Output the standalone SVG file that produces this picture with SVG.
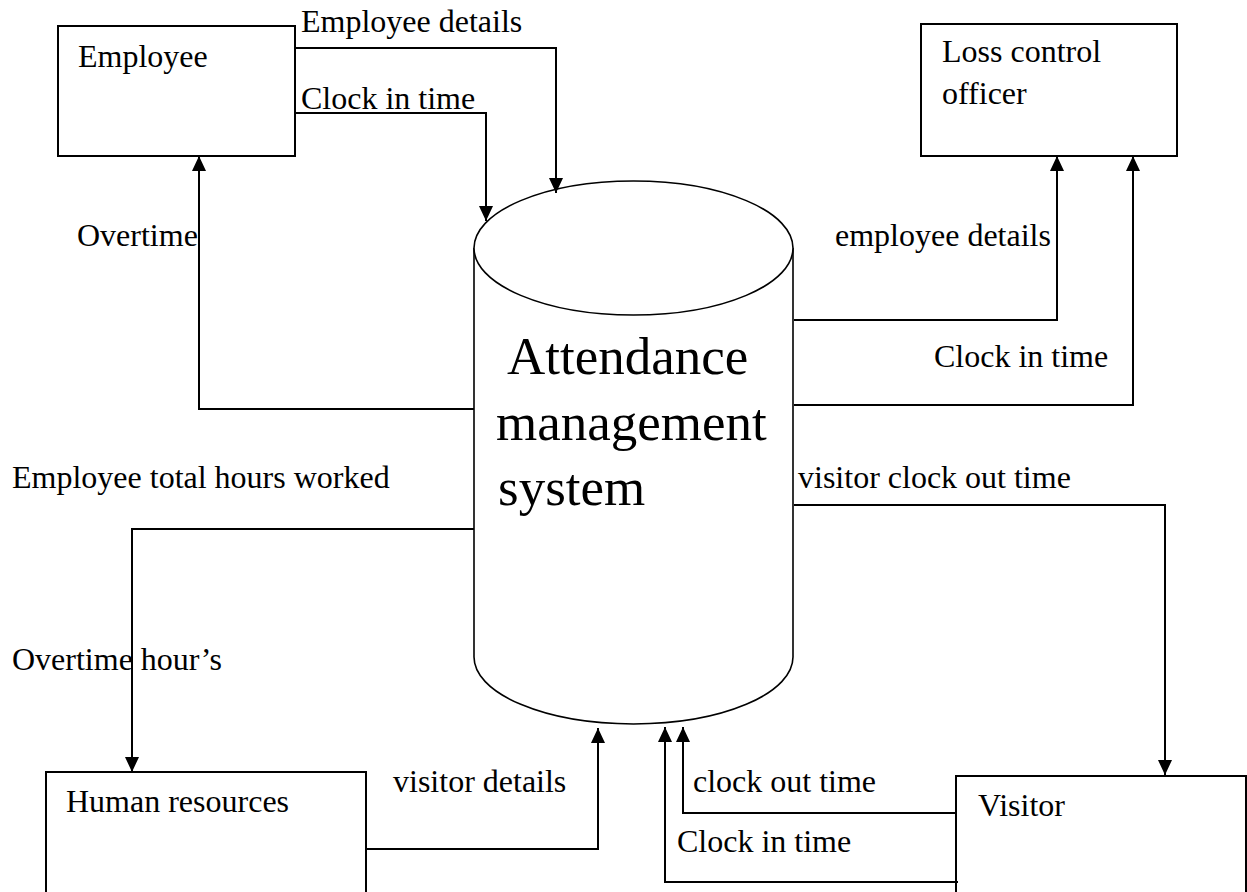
<svg xmlns="http://www.w3.org/2000/svg" width="1247" height="892" viewBox="0 0 1247 892">
<defs>
<style>
.box{fill:#fff;stroke:#000;stroke-width:2}
.cyl{fill:#fff;stroke:#000;stroke-width:1.6}
.lbl{font-family:"Liberation Serif","Times New Roman",serif;font-size:32px;fill:#000}
.big{font-family:"Liberation Serif","Times New Roman",serif;font-size:53px;fill:#000}
.con{fill:none;stroke:#000;stroke-width:2;marker-end:url(#arr)}
</style>
<marker id="arr" markerUnits="userSpaceOnUse" markerWidth="15" markerHeight="14" viewBox="0 0 15 14" refX="15" refY="7" orient="auto">
<path d="M0,0 L15,7 L0,14 z" fill="#000"/>
</marker>
</defs>
<rect width="1247" height="892" fill="#fff"/>
<g id="system">
<path class="cyl" d="M474,248 V657 A159.5,67 0 0 0 793,657 V248"/>
<ellipse class="cyl" cx="633.5" cy="248" rx="159.5" ry="67"/>
<text class="big" x="507" y="374">Attendance</text>
<text class="big" x="496" y="440">management</text>
<text class="big" x="498" y="505">system</text>
</g>
<g id="employee">
<rect class="box" x="58" y="26" width="237" height="130"/>
<text class="lbl" x="78" y="67">Employee</text>
</g>
<g id="loss-control-officer">
<rect class="box" x="921" y="24" width="256" height="132"/>
<text class="lbl" x="942" y="62">Loss control</text>
<text class="lbl" x="942" y="104">officer</text>
</g>
<g id="human-resources">
<rect class="box" x="46" y="772" width="320" height="130"/>
<text class="lbl" x="66" y="812">Human resources</text>
</g>
<g id="visitor">
<rect class="box" x="956" y="776" width="290" height="126"/>
<text class="lbl" x="978" y="816">Visitor</text>
</g>
<g id="connectors">
<path class="con" d="M295,48 H556 V193"/>
<path class="con" d="M295,113 H486 V221"/>
<path class="con" d="M474,409 H199 V156"/>
<path class="con" d="M474,529 H132 V772"/>
<path class="con" d="M366,849 H598 V728"/>
<path class="con" d="M794,320 H1057 V156"/>
<path class="con" d="M794,405 H1133 V156"/>
<path class="con" d="M794,505 H1165 V775"/>
<path class="con" d="M956,813 H683 V727"/>
<path class="con" d="M958,882 H665 V727"/>
</g>
<g id="labels">
<text class="lbl" x="301" y="32">Employee details</text>
<text class="lbl" x="301" y="109">Clock in time</text>
<text class="lbl" x="77" y="246">Overtime</text>
<text class="lbl" x="835" y="246">employee details</text>
<text class="lbl" x="934" y="367">Clock in time</text>
<text class="lbl" x="12" y="488">Employee total hours worked</text>
<text class="lbl" x="798" y="488">visitor clock out time</text>
<text class="lbl" x="12" y="670">Overtime hour’s</text>
<text class="lbl" x="393" y="792">visitor details</text>
<text class="lbl" x="693" y="792">clock out time</text>
<text class="lbl" x="677" y="852">Clock in time</text>
</g>
</svg>
